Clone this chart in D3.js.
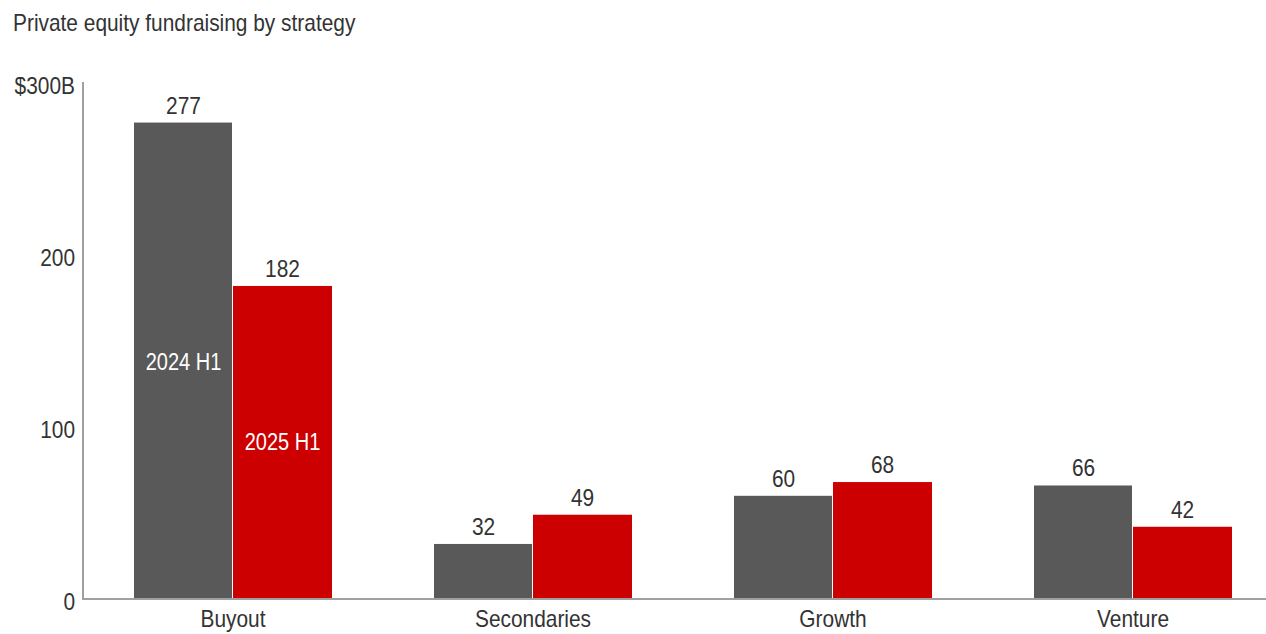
<!DOCTYPE html>
<html>
<head>
<meta charset="utf-8">
<script src="https://cdn.jsdelivr.net/npm/d3@7"></script>
<style>
  html, body { margin: 0; padding: 0; background: #fff; }
  svg { display: block; }
  text { font-family: "Liberation Sans", Arial, sans-serif; fill: #333; }
</style>
</head>
<body>
<svg id="chart" width="1266" height="634"></svg>
<script>
const title = "Private equity fundraising by strategy";
const categories = ["Buyout", "Secondaries", "Growth", "Venture"];
const seriesNames = ["2024 H1", "2025 H1"];
const values2024 = [277, 32, 60, 66];
const values2025 = [182, 49, 68, 42];
const yTicks = [0, 100, 200, 300];
const yTickLabels = ["0", "100", "200", "$300B"];

const colors = ["#595959", "#cc0000"];
const FONT = '"Liberation Sans", Arial, sans-serif';
const SQUEEZE = 0.87;

const svg = d3.select("#chart");
const W = 1266, H = 634;
const axisX = 83, baseY = 599, topY = 83;

const x = d3.scaleBand().domain(categories).range([axisX, axisX + 1200])
  .paddingInner(0.34).paddingOuter(0.17);
const xs = d3.scaleBand().domain(seriesNames).range([0, x.bandwidth()]).padding(0);
const y = d3.scaleLinear().domain([0, 300]).range([baseY, topY]);

const series = [values2024, values2025];

// title
svg.append("text").attr("x", 13).attr("y", 31)
  .attr("font-size", 24).text(title);

// bars
series.forEach((vals, si) => {
  svg.append("g").selectAll("rect").data(categories).join("rect")
    .attr("x", c => x(c) + xs(seriesNames[si]))
    .attr("width", xs.bandwidth() - (si === 0 ? 1 : 0))
    .attr("y", (c, i) => y(vals[i]))
    .attr("height", (c, i) => baseY - y(vals[i]))
    .attr("fill", colors[si]);
  svg.append("g").selectAll("text").data(categories).join("text")
    .attr("x", c => x(c) + xs(seriesNames[si]) + xs.bandwidth() / 2)
    .attr("y", (c, i) => y(vals[i]) - 9)
    .attr("text-anchor", "middle")
    .attr("font-size", 24)
    .text((c, i) => vals[i]);
});

// in-bar series labels (Buyout)
svg.append("text")
  .attr("x", x("Buyout") + xs("2024 H1") + xs.bandwidth() / 2)
  .attr("y", y(138))
  .attr("text-anchor", "middle").attr("dominant-baseline", "central")
  .attr("font-size", 23).style("fill", "#fff").text(seriesNames[0]);
svg.append("text")
  .attr("x", x("Buyout") + xs("2025 H1") + xs.bandwidth() / 2)
  .attr("y", y(91))
  .attr("text-anchor", "middle").attr("dominant-baseline", "central")
  .attr("font-size", 23).style("fill", "#fff").text(seriesNames[1]);

// y axis
const yAxis = d3.axisLeft(y).tickValues(yTicks).tickSize(0).tickPadding(8)
  .tickFormat((d, i) => yTickLabels[i]);
const gy = svg.append("g").attr("transform", `translate(${axisX},0)`).call(yAxis);
gy.select(".domain").remove();
gy.selectAll("text").attr("font-size", 24).attr("dy", "0.42em")
  .style("fill", "#333").style("font-family", FONT);
svg.append("line").attr("x1", axisX).attr("x2", axisX)
  .attr("y1", topY - 1).attr("y2", baseY + 1)
  .attr("stroke", "#a0a0a0").attr("stroke-width", 2);

// x axis
const xAxis = d3.axisBottom(x).tickSize(0).tickPadding(11);
const gx = svg.append("g").attr("transform", `translate(0,${baseY})`).call(xAxis);
gx.select(".domain").remove();
gx.selectAll("text").attr("font-size", 24).style("fill", "#333").style("font-family", FONT);
svg.append("line").attr("x1", axisX).attr("x2", W)
  .attr("y1", baseY).attr("y2", baseY)
  .attr("stroke", "#a0a0a0").attr("stroke-width", 2);

// narrow the typeface horizontally to match the condensed look
svg.selectAll("text").each(function () {
  const len = this.getComputedTextLength();
  d3.select(this).attr("textLength", len * SQUEEZE).attr("lengthAdjust", "spacingAndGlyphs");
});
</script>
</body>
</html>
